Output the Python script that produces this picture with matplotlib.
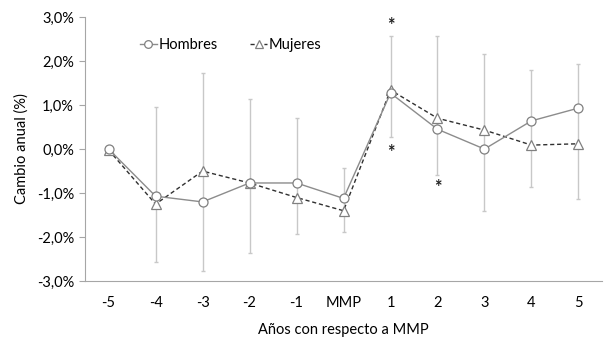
import numpy as np
from matplotlib import pyplot as plt
from matplotlib.ticker import FuncFormatter

plt.rcParams['font.family'] = ['Lato', 'DejaVu Sans']

# años con respecto a MMP
labels = ['-5', '-4', '-3', '-2', '-1', 'MMP', '1', '2', '3', '4', '5']

# cambio anual (%)
hombres = [0.0, -1.07, -1.2, -0.77, -0.77, -1.12, 1.27, 0.45, 0.0, 0.64, 0.93]
mujeres = [-0.02, -1.25, -0.5, -0.77, -1.1, -1.4, 1.34, 0.7, 0.43, 0.09, 0.12]

# intervalos (extremos de las barras)
ic_sup = [np.nan, 0.95, 1.72, 1.13, 0.7, -0.43, 2.57, 2.57, 2.15, 1.8, 1.94]
ic_inf = [np.nan, -2.57, -2.77, -2.36, -1.93, -1.89, 0.27, -0.58, -1.41, -0.86, -1.13]

# asteriscos de significación (posición, valor)
sig_x = [6, 6, 7]
sig_y = [2.8, -0.07, -0.88]

x = np.arange(len(labels))
centro = (np.array(ic_sup) + np.array(ic_inf)) / 2
err = (np.array(ic_sup) - np.array(ic_inf)) / 2

fig, ax = plt.subplots(figsize=(6.08, 3.38), dpi=100)
fig.subplots_adjust(left=0.14, right=0.99, top=0.95, bottom=0.168)

ax.errorbar(x, centro, yerr=err, fmt='none', ecolor='#c8c8c8', elinewidth=1,
            capsize=1.5, capthick=1, zorder=1)

ax.plot(x, hombres, color='#8c8c8c', lw=1, marker='o', ms=6.5,
        mfc='white', mec='#808080', mew=0.9, label='Hombres', zorder=3)
ax.plot(x, mujeres, color='#303030', lw=1, ls=(0, (3, 2)), marker='^', ms=6.5,
        mfc='white', mec='#808080', mew=0.9, label='Mujeres', zorder=2)

for sx, sy in zip(sig_x, sig_y):
    ax.text(sx, sy, '*', ha='center', va='center', fontsize=13,
            fontweight='bold', color='#202020')

ax.set_xlim(-0.5, len(labels) - 0.5)
ax.set_ylim(-3, 3)
ax.set_xticks(x)
ax.set_xticklabels(labels)
ax.set_yticks(np.arange(-3, 3.1, 1))
ax.yaxis.set_major_formatter(FuncFormatter(lambda v, p: ('%.1f%%' % v).replace('.', ',')))

for s in ['top', 'right']:
    ax.spines[s].set_visible(False)
for s in ['left', 'bottom']:
    ax.spines[s].set_color('#a6a6a6')
ax.tick_params(axis='y', length=4, color='#a6a6a6', labelsize=10.5, pad=4)
ax.tick_params(axis='x', length=0, labelsize=10.5, pad=11)

ax.set_ylabel('Cambio anual (%)', fontsize=10.5, labelpad=6)
ax.set_xlabel('Años con respecto a MMP', fontsize=10.5, labelpad=9)

ax.legend(loc='upper left', bbox_to_anchor=(0.08, 0.97), ncol=2, frameon=False,
          fontsize=10.5, handlelength=1.2, handletextpad=0.1, columnspacing=2.2,
          markerscale=0.85)

plt.savefig('out.png', dpi=100)
